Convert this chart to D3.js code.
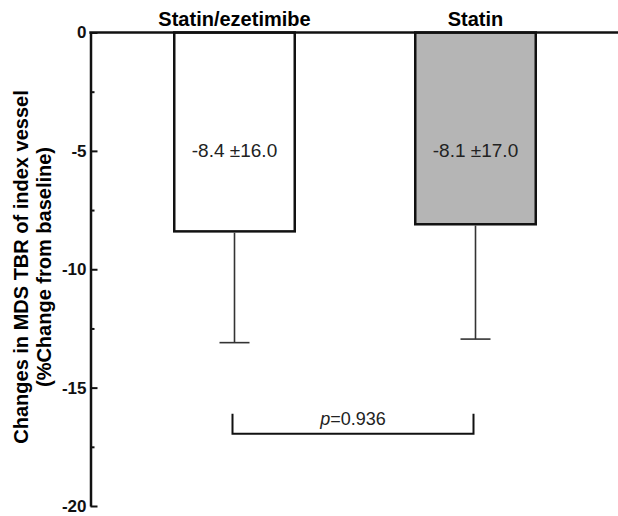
<!DOCTYPE html>
<html>
<head>
<meta charset="utf-8">
<script src="https://cdn.jsdelivr.net/npm/d3@7"></script>
<style>
	body { margin: 0; background: #fff; }
	svg { display: block; font-family: "Liberation Sans", Arial, sans-serif; }
</style>
</head>
<body>
<script>
"use strict";
const groups = ["Statin/ezetimibe", "Statin"];
const means = [-8.4, -8.1];
const errLow = [-13.1, -12.95];
const valueLabels = ["-8.4 \u00b116.0", "-8.1 \u00b117.0"];
const fills = ["#ffffff", "#b5b5b5"];
const majorTicks = [0, -5, -10, -15, -20];
const minorTicks = [-2.5, -7.5, -12.5, -17.5];
const bracket = {top: -16.1, bottom: -16.95, label: "0.936"};

const size = {"width": 618, "height": 516};
const svg = d3.select("body").append("svg").attr("width", size.width).attr("height", size.height);

const y = d3.scaleLinear().domain([0, -20]).range([32.5, 506]);
const x = d3.scaleBand().domain(groups).range([114, 596]).paddingInner(0.5).paddingOuter(0.25);
const axisX = 90.5;

// bars
svg.selectAll("rect.bar")
.data(groups)
.enter()
.append("rect")
.attr("class", "bar")
.attr("x", d => x(d))
.attr("y", y(0))
.attr("width", x.bandwidth())
.attr("height", (d, i) => y(means[i]) - y(0))
.attr("fill", (d, i) => fills[i])
.attr("stroke", "#111")
.attr("stroke-width", 2.5);

// error bars (downward only)
const err = svg.append("g").attr("stroke", "#333").attr("stroke-width", 1.6);
groups.forEach((g, i) => {
	const cx = x(g) + x.bandwidth() / 2;
	err.append("line").attr("x1", cx).attr("x2", cx).attr("y1", y(means[i]) + 1.25).attr("y2", y(errLow[i]));
	err.append("line").attr("x1", cx - 15).attr("x2", cx + 15).attr("y1", y(errLow[i])).attr("y2", y(errLow[i]));
});

// value labels inside bars
svg.selectAll("text.val")
.data(groups)
.enter()
.append("text")
.attr("class", "val")
.attr("x", d => x(d) + x.bandwidth() / 2)
.attr("y", y(-5) + 6.5)
.attr("text-anchor", "middle")
.attr("font-size", "19px")
.attr("fill", "#222")
.text((d, i) => valueLabels[i]);

// group names above the zero line
svg.selectAll("text.grp")
.data(groups)
.enter()
.append("text")
.attr("class", "grp")
.attr("x", d => x(d) + x.bandwidth() / 2)
.attr("y", 26)
.attr("text-anchor", "middle")
.attr("font-size", "20px")
.attr("font-weight", "bold")
.text(d => d);

// y axis
const yAxis = d3.axisLeft(y).tickValues(majorTicks).tickSize(-7).tickSizeOuter(0).tickPadding(4).tickFormat(d => String(d));
const ag = svg.append("g").attr("transform", "translate(" + axisX + ",0)").call(yAxis);
ag.select(".domain").attr("stroke", "#111").attr("stroke-width", 2.5);
ag.selectAll(".tick line").attr("stroke", "#111").attr("stroke-width", 2);
ag.selectAll(".tick text").attr("font-size", "17px").attr("font-weight", "bold").attr("fill", "#111").attr("font-family", "Liberation Sans, Arial, sans-serif");
const minorAxis = d3.axisLeft(y).tickValues(minorTicks).tickSize(-4).tickSizeOuter(0).tickFormat("");
const mg = svg.append("g").attr("transform", "translate(" + axisX + ",0)").call(minorAxis);
mg.select(".domain").remove();
mg.selectAll(".tick line").attr("stroke", "#111").attr("stroke-width", 2);

// zero line across the top
svg.append("line")
.attr("x1", axisX - 1.25).attr("x2", size.width)
.attr("y1", y(0)).attr("y2", y(0))
.attr("stroke", "#111").attr("stroke-width", 2.5);

// y axis title
const title = svg.append("text")
.attr("transform", "translate(28," + 267 + ") rotate(-90)")
.attr("text-anchor", "middle")
.attr("font-size", "20px")
.attr("font-weight", "bold");
title.append("tspan").attr("x", 0).attr("y", 0).text("Changes in MDS TBR of index vessel");
title.append("tspan").attr("x", 0).attr("y", 23).text("(%Change from baseline)");

// p-value bracket
const bx1 = x(groups[0]) + x.bandwidth() / 2 - 2, bx2 = x(groups[1]) + x.bandwidth() / 2 - 2;
svg.append("path")
.attr("d", "M" + bx1 + "," + y(bracket.top) + "V" + y(bracket.bottom) + "H" + bx2 + "V" + y(bracket.top))
.attr("fill", "none").attr("stroke", "#111").attr("stroke-width", 2);
const pt = svg.append("text")
.attr("x", (bx1 + bx2) / 2)
.attr("y", y(bracket.top) + 11)
.attr("text-anchor", "middle")
.attr("font-size", "18px")
.attr("fill", "#222");
pt.append("tspan").attr("font-style", "italic").text("p");
pt.append("tspan").text("=" + bracket.label);
</script>
</body>
</html>
